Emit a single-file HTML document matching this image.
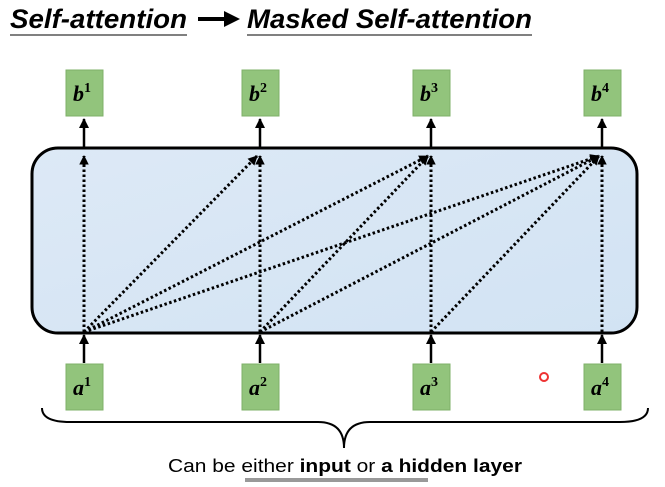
<!DOCTYPE html>
<html><head><meta charset="utf-8"><style>
body{margin:0;width:665px;height:482px;background:#fff;overflow:hidden;font-family:"Liberation Sans",sans-serif}
</style></head><body>
<svg width="665" height="482">
<defs>
<marker id="ah" viewBox="0 0 10 10" refX="9" refY="5" markerWidth="3.2" markerHeight="3.2" orient="auto"><path d="M0,0L10,5L0,10z" fill="#000"/></marker>
<marker id="ah2" viewBox="0 0 10 10" refX="9" refY="5" markerWidth="4" markerHeight="4" orient="auto"><path d="M0,0L10,5L0,10z" fill="#000"/></marker>
<linearGradient id="bg" x1="0" y1="0" x2="1" y2="1"><stop offset="0" stop-color="#dde9f6"/><stop offset="1" stop-color="#d2e3f3"/></linearGradient>
</defs>
<g font-style="italic" font-weight="bold" font-size="27">
<text x="10" y="28" textLength="177" lengthAdjust="spacingAndGlyphs">Self-attention</text>
<line x1="10" y1="35" x2="187" y2="35" stroke="#000" stroke-width="1"/>
<path d="M198,19H226" stroke="#000" stroke-width="4"/>
<path d="M224,11L240,19L224,27z" fill="#000"/>
<text x="247" y="28" textLength="285" lengthAdjust="spacingAndGlyphs">Masked Self-attention</text>
<line x1="247" y1="35" x2="532" y2="35" stroke="#000" stroke-width="1"/>
</g>
<rect x="32" y="148" width="605" height="185" rx="26" fill="url(#bg)" stroke="#000" stroke-width="3"/>
<g id="links" stroke="#000" stroke-width="3" stroke-dasharray="2.5,2.5" fill="none"></g>
<g id="nodes"></g>
<path d="M42,408 Q42,422 70,422 L318,422 Q344,422 344,448 Q344,422 370,422 L620,422 Q648,422 648,408" fill="none" stroke="#000" stroke-width="2"/>
<text x="168" y="472" textLength="354" lengthAdjust="spacingAndGlyphs" font-size="18">Can be either <tspan font-weight="bold">input</tspan> or <tspan font-weight="bold">a hidden layer</tspan></text>
<rect x="245" y="478" width="183" height="4" fill="#999"/>
<circle cx="544" cy="377" r="4" fill="none" stroke="#e33" stroke-width="2"/>
</svg>
<script>
const cols=[84,260,431,602];
const labels=['1','2','3','4'];
const ns='http://www.w3.org/2000/svg';
const links=document.getElementById('links');
const nodes=document.getElementById('nodes');
function mk(t,a,p){const e=document.createElementNS(ns,t);for(const k in a)e.setAttribute(k,a[k]);(p||nodes).appendChild(e);return e;}
cols.forEach((x,i)=>{
  for(let j=i;j<cols.length;j++){
    const l=mk('line',{x1:x,y1:332,x2:cols[j]-(j>i?3:0),y2:156,'marker-end':'url(#ah)'},links);
    
    
  }
  const up=mk('line',{x1:x,y1:148,x2:x,y2:119,stroke:'#000','stroke-width':2.5,'marker-end':'url(#ah2)'});
  
  
  const inA=mk('line',{x1:x,y1:363,x2:x,y2:335,stroke:'#000','stroke-width':2.5,'marker-end':'url(#ah2)'});
  
  
  [['b',70],['a',364]].forEach(([n,y])=>{
    const g=mk('g',{});
    
    
    mk('rect',{x:x-18,y:y,width:37,height:46,fill:'#92c47c',stroke:'#7fb069'},g);
    const t=mk('text',{x:x-2,y:y+31,'text-anchor':'middle','font-family':'Liberation Serif, serif','font-weight':'bold','font-style':'italic','font-size':22},g);
    t.textContent=n;
    const s=mk('tspan',{dy:-9,'font-size':14,'font-style':'normal'},t);
    s.textContent=labels[i];
  });
});
</script>
</body></html>
